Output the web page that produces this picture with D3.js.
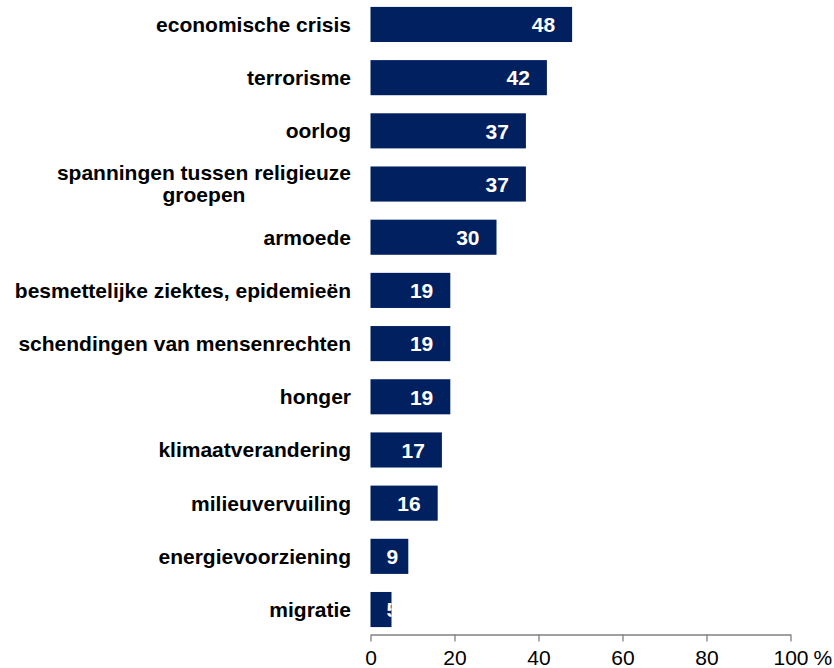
<!DOCTYPE html>
<html>
<head>
<meta charset="utf-8">
<script src="https://cdn.jsdelivr.net/npm/d3@7"></script>
<style>
  body { margin: 0; background: #fff; }
  svg { display: block; font-family: Arial, "Liberation Sans", sans-serif; }
</style>
</head>
<body>
<div id="chart"></div>
<script>
// categories (top to bottom) and values in %
const categories = [
  "economische crisis",
  "terrorisme",
  "oorlog",
  "spanningen tussen religieuze|groepen",
  "armoede",
  "besmettelijke ziektes, epidemieën",
  "schendingen van mensenrechten",
  "honger",
  "klimaatverandering",
  "milieuvervuiling",
  "energievoorziening",
  "migratie"
];
const values = [48, 42, 37, 37, 30, 19, 19, 19, 17, 16, 9, 5];
const xTicks = [0, 20, 40, 60, 80, 100];

const width = 834, height = 668;
const x0 = 370.5, x1 = 790.5;
const barColor = "#002060";

const svg = d3.select("#chart").append("svg")
  .attr("width", width)
  .attr("height", height);

const x = d3.scaleLinear().domain([0, 100]).range([x0, x1]);
const y = d3.scaleBand()
  .domain(categories)
  .range([0, 634])
  .paddingInner(0.34)
  .paddingOuter(0.13);

const data = categories.map((c, i) => ({ cat: c, value: values[i], i }));

// clip paths so labels never leave their bar
const defs = svg.append("defs");
defs.selectAll("clipPath")
  .data(data)
  .join("clipPath")
  .attr("id", d => "clip" + d.i)
  .append("rect")
  .attr("x", x(0))
  .attr("y", d => y(d.cat))
  .attr("width", d => x(d.value) - x(0))
  .attr("height", y.bandwidth());

// bars
svg.selectAll("rect.bar")
  .data(data)
  .join("rect")
  .attr("class", "bar")
  .attr("x", x(0))
  .attr("y", d => y(d.cat))
  .attr("width", d => x(d.value) - x(0))
  .attr("height", y.bandwidth())
  .attr("fill", barColor);

// value labels, right aligned inside the bar with a minimum left position
const vl = svg.selectAll("text.val")
  .data(data)
  .join("text")
  .attr("class", "val")
  .attr("clip-path", d => `url(#clip${d.i})`)
  .attr("y", d => y(d.cat) + y.bandwidth() / 2)
  .attr("dy", "0.37em")
  .attr("fill", "#fff")
  .style("font-size", "21px")
  .style("font-weight", "bold")
  .text(d => d.value);

vl.each(function (d) {
  const w = this.getComputedTextLength();
  const start = Math.max(x(d.value) - 17 - w, x(0) + 16);
  d3.select(this).attr("x", start);
});

// category labels
const labelRight = 351;
svg.selectAll("text.cat")
  .data(data)
  .join("text")
  .attr("class", "cat")
  .style("font-size", "21px")
  .style("font-weight", "bold")
  .attr("fill", "#000")
  .each(function (d) {
    const t = d3.select(this);
    const lines = d.cat.split("|");
    const cy = y(d.cat) + y.bandwidth() / 2;
    const lh = 22;
    lines.forEach((ln, k) => {
      t.append("tspan")
        .attr("y", cy + (k - (lines.length - 1) / 2) * lh)
        .attr("dy", "0.35em")
        .text(ln);
    });
    // center the lines as a block that ends at labelRight
    const ts = t.selectAll("tspan").nodes();
    const maxW = d3.max(ts, n => n.getComputedTextLength());
    t.attr("text-anchor", "middle");
    t.selectAll("tspan").attr("x", labelRight - maxW / 2);
  });

// x axis
const axis = svg.append("g")
  .attr("transform", "translate(0,634.5)")
  .call(d3.axisBottom(x).tickValues(xTicks).tickSize(7).tickPadding(9).tickSizeOuter(0));

axis.select(".domain").attr("stroke", "#808080").attr("stroke-width", 1.3);
axis.selectAll(".tick line").attr("stroke", "#808080").attr("stroke-width", 1.3);
axis.selectAll(".tick text")
  .attr("fill", "#000")
  .style("font-size", "21px")
  .style("font-family", "Arial, 'Liberation Sans', sans-serif");

svg.append("text")
  .attr("x", x(100) + 23)
  .attr("y", 665)
  .attr("fill", "#000")
  .style("font-size", "21px")
  .text("%");
</script>
</body>
</html>
